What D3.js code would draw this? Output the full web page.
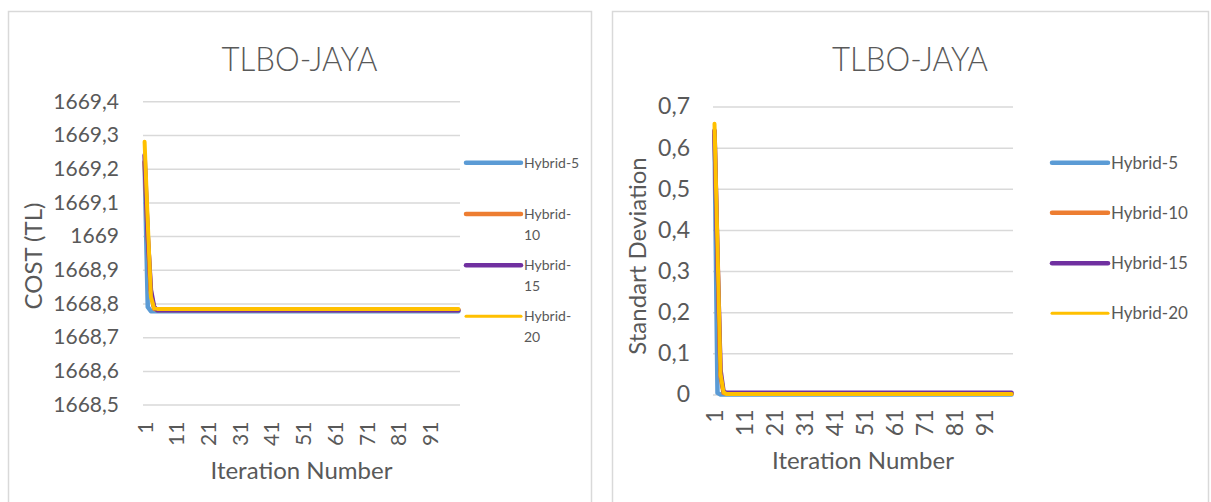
<!DOCTYPE html>
<html>
<head>
<meta charset="utf-8">
<script src="https://cdn.jsdelivr.net/npm/d3@7"></script>
<style>
  html, body { margin: 0; padding: 0; background: #fff; }
  svg { display: block; font-family: Lato, "Noto Sans", sans-serif; }
</style>
</head>
<body>
<svg id="chart" width="1211" height="502"></svg>
<script>
// Iteration numbers on the category axis
const iterations = d3.range(1, 101);
const iterationTicks = [1, 11, 21, 31, 41, 51, 61, 71, 81, 91];

const seriesNames = ["Hybrid-5", "Hybrid-10", "Hybrid-15", "Hybrid-20"];
const seriesColors = ["#5b9bd5", "#ed7d31", "#7030a0", "#ffc000"];

// Best cost per iteration (TL)
const costHybrid5 = [
  1669.22, 1668.79, 1668.777, 1668.777, 1668.777, 1668.777, 1668.777, 1668.777, 1668.777, 1668.777,
  1668.777, 1668.777, 1668.777, 1668.777, 1668.777, 1668.777, 1668.777, 1668.777, 1668.777, 1668.777,
  1668.777, 1668.777, 1668.777, 1668.777, 1668.777, 1668.777, 1668.777, 1668.777, 1668.777, 1668.777,
  1668.777, 1668.777, 1668.777, 1668.777, 1668.777, 1668.777, 1668.777, 1668.777, 1668.777, 1668.777,
  1668.777, 1668.777, 1668.777, 1668.777, 1668.777, 1668.777, 1668.777, 1668.777, 1668.777, 1668.777,
  1668.777, 1668.777, 1668.777, 1668.777, 1668.777, 1668.777, 1668.777, 1668.777, 1668.777, 1668.777,
  1668.777, 1668.777, 1668.777, 1668.777, 1668.777, 1668.777, 1668.777, 1668.777, 1668.777, 1668.777,
  1668.777, 1668.777, 1668.777, 1668.777, 1668.777, 1668.777, 1668.777, 1668.777, 1668.777, 1668.777,
  1668.777, 1668.777, 1668.777, 1668.777, 1668.777, 1668.777, 1668.777, 1668.777, 1668.777, 1668.777,
  1668.777, 1668.777, 1668.777, 1668.777, 1668.777, 1668.777, 1668.777, 1668.777, 1668.777, 1668.777
];
const costHybrid10 = [
  1669.22, 1669.00, 1668.83, 1668.785, 1668.781, 1668.781, 1668.781, 1668.781, 1668.781, 1668.781,
  1668.781, 1668.781, 1668.781, 1668.781, 1668.781, 1668.781, 1668.781, 1668.781, 1668.781, 1668.781,
  1668.781, 1668.781, 1668.781, 1668.781, 1668.781, 1668.781, 1668.781, 1668.781, 1668.781, 1668.781,
  1668.781, 1668.781, 1668.781, 1668.781, 1668.781, 1668.781, 1668.781, 1668.781, 1668.781, 1668.781,
  1668.781, 1668.781, 1668.781, 1668.781, 1668.781, 1668.781, 1668.781, 1668.781, 1668.781, 1668.781,
  1668.781, 1668.781, 1668.781, 1668.781, 1668.781, 1668.781, 1668.781, 1668.781, 1668.781, 1668.781,
  1668.781, 1668.781, 1668.781, 1668.781, 1668.781, 1668.781, 1668.781, 1668.781, 1668.781, 1668.781,
  1668.781, 1668.781, 1668.781, 1668.781, 1668.781, 1668.781, 1668.781, 1668.781, 1668.781, 1668.781,
  1668.781, 1668.781, 1668.781, 1668.781, 1668.781, 1668.781, 1668.781, 1668.781, 1668.781, 1668.781,
  1668.781, 1668.781, 1668.781, 1668.781, 1668.781, 1668.781, 1668.781, 1668.781, 1668.781, 1668.781
];
const costHybrid15 = [
  1669.24, 1669.00, 1668.84, 1668.79, 1668.780, 1668.780, 1668.780, 1668.780, 1668.780, 1668.780,
  1668.780, 1668.780, 1668.780, 1668.780, 1668.780, 1668.780, 1668.780, 1668.780, 1668.780, 1668.780,
  1668.780, 1668.780, 1668.780, 1668.780, 1668.780, 1668.780, 1668.780, 1668.780, 1668.780, 1668.780,
  1668.780, 1668.780, 1668.780, 1668.780, 1668.780, 1668.780, 1668.780, 1668.780, 1668.780, 1668.780,
  1668.780, 1668.780, 1668.780, 1668.780, 1668.780, 1668.780, 1668.780, 1668.780, 1668.780, 1668.780,
  1668.780, 1668.780, 1668.780, 1668.780, 1668.780, 1668.780, 1668.780, 1668.780, 1668.780, 1668.780,
  1668.780, 1668.780, 1668.780, 1668.780, 1668.780, 1668.780, 1668.780, 1668.780, 1668.780, 1668.780,
  1668.780, 1668.780, 1668.780, 1668.780, 1668.780, 1668.780, 1668.780, 1668.780, 1668.780, 1668.780,
  1668.780, 1668.780, 1668.780, 1668.780, 1668.780, 1668.780, 1668.780, 1668.780, 1668.780, 1668.780,
  1668.780, 1668.780, 1668.780, 1668.780, 1668.780, 1668.780, 1668.780, 1668.780, 1668.780, 1668.780
];
const costHybrid20 = [
  1669.28, 1669.04, 1668.82, 1668.786, 1668.784, 1668.784, 1668.784, 1668.784, 1668.784, 1668.784,
  1668.784, 1668.784, 1668.784, 1668.784, 1668.784, 1668.784, 1668.784, 1668.784, 1668.784, 1668.784,
  1668.784, 1668.784, 1668.784, 1668.784, 1668.784, 1668.784, 1668.784, 1668.784, 1668.784, 1668.784,
  1668.784, 1668.784, 1668.784, 1668.784, 1668.784, 1668.784, 1668.784, 1668.784, 1668.784, 1668.784,
  1668.784, 1668.784, 1668.784, 1668.784, 1668.784, 1668.784, 1668.784, 1668.784, 1668.784, 1668.784,
  1668.784, 1668.784, 1668.784, 1668.784, 1668.784, 1668.784, 1668.784, 1668.784, 1668.784, 1668.784,
  1668.784, 1668.784, 1668.784, 1668.784, 1668.784, 1668.784, 1668.784, 1668.784, 1668.784, 1668.784,
  1668.784, 1668.784, 1668.784, 1668.784, 1668.784, 1668.784, 1668.784, 1668.784, 1668.784, 1668.784,
  1668.784, 1668.784, 1668.784, 1668.784, 1668.784, 1668.784, 1668.784, 1668.784, 1668.784, 1668.784,
  1668.784, 1668.784, 1668.784, 1668.784, 1668.784, 1668.784, 1668.784, 1668.784, 1668.784, 1668.784
];

// Standard deviation of the population per iteration
const stdHybrid5 = [
  0.630, 0.004, 0.000, 0.000, 0.000, 0.000, 0.000, 0.000, 0.000, 0.000,
  0.000, 0.000, 0.000, 0.000, 0.000, 0.000, 0.000, 0.000, 0.000, 0.000,
  0.000, 0.000, 0.000, 0.000, 0.000, 0.000, 0.000, 0.000, 0.000, 0.000,
  0.000, 0.000, 0.000, 0.000, 0.000, 0.000, 0.000, 0.000, 0.000, 0.000,
  0.000, 0.000, 0.000, 0.000, 0.000, 0.000, 0.000, 0.000, 0.000, 0.000,
  0.000, 0.000, 0.000, 0.000, 0.000, 0.000, 0.000, 0.000, 0.000, 0.000,
  0.000, 0.000, 0.000, 0.000, 0.000, 0.000, 0.000, 0.000, 0.000, 0.000,
  0.000, 0.000, 0.000, 0.000, 0.000, 0.000, 0.000, 0.000, 0.000, 0.000,
  0.000, 0.000, 0.000, 0.000, 0.000, 0.000, 0.000, 0.000, 0.000, 0.000,
  0.000, 0.000, 0.000, 0.000, 0.000, 0.000, 0.000, 0.000, 0.000, 0.000
];
const stdHybrid10 = [
  0.640, 0.340, 0.045, 0.004, 0.002, 0.002, 0.002, 0.002, 0.002, 0.002,
  0.002, 0.002, 0.002, 0.002, 0.002, 0.002, 0.002, 0.002, 0.002, 0.002,
  0.002, 0.002, 0.002, 0.002, 0.002, 0.002, 0.002, 0.002, 0.002, 0.002,
  0.002, 0.002, 0.002, 0.002, 0.002, 0.002, 0.002, 0.002, 0.002, 0.002,
  0.002, 0.002, 0.002, 0.002, 0.002, 0.002, 0.002, 0.002, 0.002, 0.002,
  0.002, 0.002, 0.002, 0.002, 0.002, 0.002, 0.002, 0.002, 0.002, 0.002,
  0.002, 0.002, 0.002, 0.002, 0.002, 0.002, 0.002, 0.002, 0.002, 0.002,
  0.002, 0.002, 0.002, 0.002, 0.002, 0.002, 0.002, 0.002, 0.002, 0.002,
  0.002, 0.002, 0.002, 0.002, 0.002, 0.002, 0.002, 0.002, 0.002, 0.002,
  0.002, 0.002, 0.002, 0.002, 0.002, 0.002, 0.002, 0.002, 0.002, 0.002
];
const stdHybrid15 = [
  0.642, 0.330, 0.060, 0.008, 0.004, 0.004, 0.004, 0.004, 0.004, 0.004,
  0.004, 0.004, 0.004, 0.004, 0.004, 0.004, 0.004, 0.004, 0.004, 0.004,
  0.004, 0.004, 0.004, 0.004, 0.004, 0.004, 0.004, 0.004, 0.004, 0.004,
  0.004, 0.004, 0.004, 0.004, 0.004, 0.004, 0.004, 0.004, 0.004, 0.004,
  0.004, 0.004, 0.004, 0.004, 0.004, 0.004, 0.004, 0.004, 0.004, 0.004,
  0.004, 0.004, 0.004, 0.004, 0.004, 0.004, 0.004, 0.004, 0.004, 0.004,
  0.004, 0.004, 0.004, 0.004, 0.004, 0.004, 0.004, 0.004, 0.004, 0.004,
  0.004, 0.004, 0.004, 0.004, 0.004, 0.004, 0.004, 0.004, 0.004, 0.004,
  0.004, 0.004, 0.004, 0.004, 0.004, 0.004, 0.004, 0.004, 0.004, 0.004,
  0.004, 0.004, 0.004, 0.004, 0.004, 0.004, 0.004, 0.004, 0.004, 0.004
];
const stdHybrid20 = [
  0.658, 0.355, 0.050, 0.006, 0.001, 0.001, 0.001, 0.001, 0.001, 0.001,
  0.001, 0.001, 0.001, 0.001, 0.001, 0.001, 0.001, 0.001, 0.001, 0.001,
  0.001, 0.001, 0.001, 0.001, 0.001, 0.001, 0.001, 0.001, 0.001, 0.001,
  0.001, 0.001, 0.001, 0.001, 0.001, 0.001, 0.001, 0.001, 0.001, 0.001,
  0.001, 0.001, 0.001, 0.001, 0.001, 0.001, 0.001, 0.001, 0.001, 0.001,
  0.001, 0.001, 0.001, 0.001, 0.001, 0.001, 0.001, 0.001, 0.001, 0.001,
  0.001, 0.001, 0.001, 0.001, 0.001, 0.001, 0.001, 0.001, 0.001, 0.001,
  0.001, 0.001, 0.001, 0.001, 0.001, 0.001, 0.001, 0.001, 0.001, 0.001,
  0.001, 0.001, 0.001, 0.001, 0.001, 0.001, 0.001, 0.001, 0.001, 0.001,
  0.001, 0.001, 0.001, 0.001, 0.001, 0.001, 0.001, 0.001, 0.001, 0.001
];

const costTicks = [1668.5, 1668.6, 1668.7, 1668.8, 1668.9, 1669.0, 1669.1, 1669.2, 1669.3, 1669.4];
const stdTicks = [0, 0.1, 0.2, 0.3, 0.4, 0.5, 0.6, 0.7];

// Decimal comma, no thousands grouping
const locale = d3.formatLocale({ decimal: ",", thousands: ".", grouping: [3], currency: ["", ""] });
const fmt = locale.format(".1~f");

const TEXT = "#595959";
const GRID = "#d9d9d9";
const svg = d3.select("#chart");

function drawPanel(cfg) {
  const g = svg.append("g");

  g.append("rect")
    .attr("x", cfg.box[0] + 0.5).attr("y", cfg.box[1] + 0.5)
    .attr("width", cfg.box[2]).attr("height", cfg.box[3])
    .attr("fill", "#fff").attr("stroke", GRID).attr("stroke-width", 1.5);

  // chart title, set in a condensed width
  g.append("text")
    .attr("x", cfg.box[0] + cfg.box[2] / 2).attr("y", cfg.titleY)
    .attr("text-anchor", "middle")
    .attr("font-size", cfg.titleSize).attr("font-weight", 300)
    .attr("textLength", cfg.titleWidth).attr("lengthAdjust", "spacingAndGlyphs")
    .attr("fill", TEXT)
    .text("TLBO-JAYA");

  const x = d3.scalePoint().domain(iterations).range([cfg.plot.left, cfg.plot.right]).padding(0.5);
  const y = d3.scaleLinear().domain(cfg.domain).range([cfg.plot.bottom, cfg.plot.top]);
  const width = cfg.plot.right - cfg.plot.left;

  // value axis with gridlines
  const yAxis = g.append("g")
    .attr("transform", `translate(${cfg.plot.left},0)`)
    .call(d3.axisLeft(y).tickValues(cfg.ticks).tickFormat(fmt).tickSize(-width).tickPadding(cfg.yPad));
  yAxis.select(".domain").remove();
  yAxis.selectAll(".tick line").attr("stroke", GRID).attr("stroke-width", 1.5);
  yAxis.selectAll(".tick text")
    .attr("fill", TEXT).attr("font-size", cfg.tickSize)
    .attr("font-family", "Lato, sans-serif");

  // category axis, labels rotated
  const xAxis = g.append("g")
    .attr("transform", `translate(0,${cfg.plot.bottom})`)
    .call(d3.axisBottom(x).tickValues(iterationTicks).tickSize(0).tickPadding(0));
  xAxis.select(".domain").remove();
  xAxis.selectAll(".tick text")
    .attr("fill", TEXT).attr("font-size", cfg.tickSize)
    .attr("font-family", "Lato, sans-serif")
    .attr("text-anchor", "end")
    .attr("transform", "rotate(-90)")
    .attr("x", -cfg.xLabelGap).attr("y", 0).attr("dy", "0.36em");

  g.append("text")
    .attr("x", (cfg.plot.left + cfg.plot.right) / 2).attr("y", cfg.xTitleY)
    .attr("text-anchor", "middle").attr("font-size", cfg.axisTitleSize)
    .attr("fill", TEXT).text("Iteration Number");

  g.append("text")
    .attr("transform", `translate(${cfg.yTitleX},${cfg.yTitleCY}) rotate(-90)`)
    .attr("text-anchor", "middle").attr("dy", "0.36em")
    .attr("font-size", cfg.axisTitleSize)
    .attr("fill", TEXT).text(cfg.yTitle);

  const line = d3.line().x((d, i) => x(iterations[i])).y(d => y(d));
  cfg.series.forEach((vals, k) => {
    g.append("path")
      .datum(vals)
      .attr("d", line)
      .attr("fill", "none")
      .attr("stroke", seriesColors[k])
      .attr("stroke-width", k === 3 ? 4 : 4.5)
      .attr("stroke-linejoin", "round")
      .attr("stroke-linecap", "round");
  });

  // legend
  const lg = g.append("g");
  seriesNames.forEach((name, k) => {
    const ly = cfg.legend.ys[k];
    lg.append("line")
      .attr("x1", cfg.legend.x1).attr("x2", cfg.legend.x2)
      .attr("y1", ly).attr("y2", ly)
      .attr("stroke", seriesColors[k])
      .attr("stroke-width", k === 3 ? 3 : 4.5)
      .attr("stroke-linecap", "round");
    const t = lg.append("text")
      .attr("x", cfg.legend.tx).attr("y", ly)
      .attr("font-size", cfg.legend.size)
      .attr("fill", TEXT);
    const parts = cfg.legend.wrap && name.length > 8 ? [name.slice(0, 7), name.slice(7)] : [name];
    parts.forEach((p, j) => {
      t.append("tspan").attr("x", cfg.legend.tx).attr("dy", j === 0 ? "0.36em" : cfg.legend.lineH).text(p);
    });
  });
}

drawPanel({
  box: [8, 11, 583, 500],
  titleY: 71, titleSize: 34, titleWidth: 156,
  plot: { left: 143, right: 460, top: 101.3, bottom: 404.6 },
  domain: [1668.5, 1669.4], ticks: costTicks, yPad: 24,
  tickSize: 21, xLabelGap: 17,
  axisTitleSize: 24, xTitleY: 479, yTitleX: 33, yTitleCY: 256, yTitle: "COST (TL)",
  series: [costHybrid5, costHybrid10, costHybrid15, costHybrid20],
  legend: { x1: 466, x2: 521, tx: 524, ys: [162.7, 214, 265.3, 316.3], size: 14, wrap: true, lineH: 20.5 }
});

drawPanel({
  box: [612, 11, 596, 500],
  titleY: 71, titleSize: 34, titleWidth: 156,
  plot: { left: 713, right: 1013, top: 106.6, bottom: 394.5 },
  domain: [0, 0.7], ticks: stdTicks, yPad: 23,
  tickSize: 23, xLabelGap: 15,
  axisTitleSize: 24, xTitleY: 469, yTitleX: 637, yTitleCY: 256, yTitle: "Standart Deviation",
  series: [stdHybrid5, stdHybrid10, stdHybrid15, stdHybrid20],
  legend: { x1: 1052, x2: 1108, tx: 1111, ys: [162.7, 212.7, 263.3, 313.3], size: 17, wrap: false, lineH: 20.5 }
});
</script>
</body>
</html>
